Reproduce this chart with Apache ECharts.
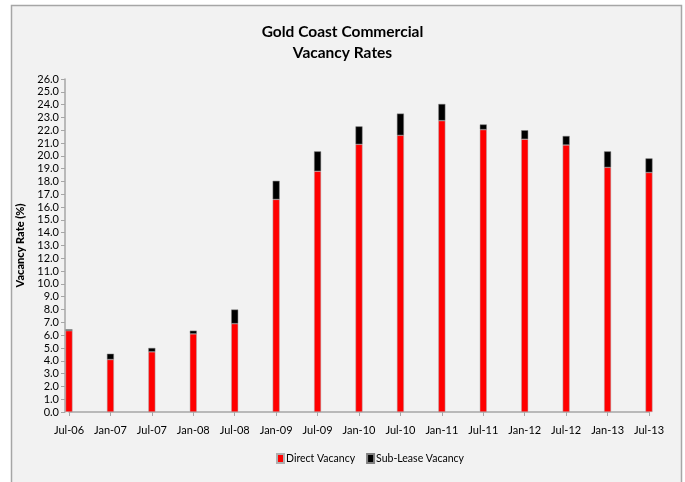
<!DOCTYPE html>
<html>
<head>
<meta charset="utf-8">
<script src="https://cdn.jsdelivr.net/npm/echarts@6/dist/echarts.min.js"></script>
<style>
  html, body { margin: 0; padding: 0; background: #ffffff; }
  #chart { width: 685px; height: 482px; }
</style>
</head>
<body>
<div id="chart"></div>
<script>
// Half-yearly periods
const categories = ['Jul-06', 'Jan-07', 'Jul-07', 'Jan-08', 'Jul-08', 'Jan-09', 'Jul-09', 'Jan-10',
  'Jul-10', 'Jan-11', 'Jul-11', 'Jan-12', 'Jul-12', 'Jan-13', 'Jul-13'];

// Vacancy rates (%)
const directVacancy = [6.35, 4.1, 4.7, 6.1, 6.9, 16.6, 18.8, 20.9, 21.6, 22.75, 22.05, 21.3, 20.85, 19.1, 18.7];
const subLeaseVacancy = [0.1, 0.45, 0.3, 0.25, 1.1, 1.45, 1.55, 1.4, 1.7, 1.3, 0.4, 0.7, 0.7, 1.25, 1.1];

const FONT = 'Lato, "Open Sans", sans-serif';

const chart = echarts.init(document.getElementById('chart'), null, { renderer: 'canvas' });

chart.setOption({
  backgroundColor: '#ffffff',
  animation: false,
  graphic: [{
    type: 'rect',
    z: -10,
    shape: { x: 11.5, y: 5.5, width: 670, height: 490 },
    style: { fill: '#f2f2f2', stroke: '#a6a6a6', lineWidth: 1.5 }
  }],
  title: {
    text: 'Gold Coast Commercial\nVacancy Rates',
    left: 'center',
    top: 16,
    textStyle: { fontFamily: FONT, fontSize: 15.5, fontWeight: 'bold', color: '#000', lineHeight: 21 }
  },
  legend: {
    bottom: 13,
    left: 271,
    icon: 'rect',
    itemWidth: 7,
    itemHeight: 9,
    itemGap: 11,
    textStyle: { fontFamily: FONT, fontSize: 10.5, color: '#000', padding: [0, 0, 0, -3] },
    data: ['Direct Vacancy', 'Sub-Lease Vacancy']
  },
  grid: { left: 69, right: 36, top: 79, bottom: 70 },
  xAxis: {
    type: 'category',
    data: categories,
    boundaryGap: false,
    axisLine: { lineStyle: { color: '#a6a6a6', width: 1.5 } },
    axisTick: { length: 4, interval: 0, lineStyle: { color: '#a6a6a6' } },
    axisLabel: { interval: 0, fontFamily: FONT, fontSize: 11, color: '#000', margin: 13 }
  },
  yAxis: {
    type: 'value',
    min: 0,
    max: 26,
    interval: 1,
    offset: 4,
    name: 'Vacancy Rate (%)',
    nameLocation: 'middle',
    nameGap: 39,
    nameTextStyle: { fontFamily: FONT, fontSize: 11, fontWeight: 900, color: '#000' },
    axisLine: { show: true, lineStyle: { color: '#a6a6a6', width: 1.5 } },
    axisTick: { show: true, length: 4, lineStyle: { color: '#a6a6a6' } },
    splitLine: { show: false },
    axisLabel: {
      fontFamily: FONT, fontSize: 11, color: '#000', margin: 6,
      formatter: v => v.toFixed(1)
    }
  },
  series: [
    {
      name: 'Direct Vacancy',
      type: 'bar',
      stack: 'vacancy',
      barWidth: 7,
      data: directVacancy,
      itemStyle: { color: '#ff0000', borderColor: '#b0b0b0', borderWidth: 0.5 }
    },
    {
      name: 'Sub-Lease Vacancy',
      type: 'bar',
      stack: 'vacancy',
      barWidth: 7,
      data: subLeaseVacancy,
      itemStyle: { color: '#000000', borderColor: '#808080', borderWidth: 0.5 }
    }
  ]
});
</script>
</body>
</html>
